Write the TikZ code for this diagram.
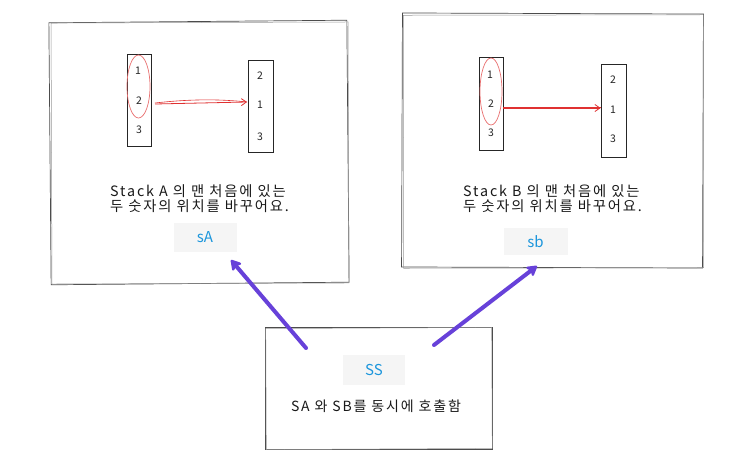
\documentclass[tikz,border=0pt]{standalone}
\usepackage{fontspec}
\setmainfont{Noto Sans CJK KR}
\newfontfamily\widefont[LetterSpace=13]{Noto Sans CJK KR}
\usetikzlibrary{arrows.meta,shapes.geometric}
\definecolor{sketchred}{RGB}{224,49,49}
\definecolor{labelblue}{RGB}{28,150,220}
\definecolor{arrowpurple}{RGB}{103,65,217}
\definecolor{labelbg}{RGB}{245,245,245}
\tikzset{
  frame/.style={draw=black!70, line width=0.7pt, rectangle, inner sep=0pt},
  frametwo/.style={draw=black!40, line width=0.5pt, rectangle, inner sep=0pt},
  stackbox/.style={draw=black!85, line width=0.8pt, rectangle, inner sep=0pt, minimum width=24pt},
  numtxt/.style={font=\fontsize{10.5}{10.5}\selectfont, text=black!85, inner sep=0pt},
  swapring/.style={draw=sketchred!70, line width=0.7pt, ellipse, inner sep=0pt},
  redarrow/.style={draw=sketchred, line width=0.8pt, -{Straight Barb[length=5pt,width=7pt]}},
  desctxt/.style={font=\widefont\fontsize{14.3}{15.5}\selectfont, align=left, anchor=west, inner sep=0pt, text=black!90},
  cmdlabel/.style={fill=labelbg, text=labelblue, font=\fontsize{15}{15}\selectfont, inner sep=0pt},
  callarrow/.style={draw=arrowpurple, line width=4pt, line cap=round,
    -{Stealth[round,length=12pt,width=14pt,inset=3pt]}}
}
\begin{document}
\begin{tikzpicture}[x=1pt,y=-1pt]
\useasboundingbox (0,0) rectangle (753,466);
\fill[white] (0,0) rectangle (753,466);

% frames
\node[frame, minimum width=298pt, minimum height=262pt, rotate=0.5] (frameA) at (199,152.5) {};
\node[frametwo, minimum width=297pt, minimum height=261pt, rotate=0.2] (frameAb) at (200,153) {};
\node[frame, minimum width=301pt, minimum height=254pt, rotate=-0.2] (frameB) at (552.5,140.5) {};
\node[frametwo, minimum width=300pt, minimum height=253pt, rotate=0.1] (frameBb) at (553.5,141.5) {};
\node[frame, minimum width=227pt, minimum height=122pt] (frameS) at (378.5,388) {};
\node[frametwo, minimum width=226pt, minimum height=121pt, rotate=0.3] (frameSb) at (379,388.5) {};

% stack A
\node[stackbox, minimum height=92pt] (a1) at (139,100) {};
\node[numtxt] (a1n1) at (138,71) {1};
\node[numtxt] (a1n2) at (139,101) {2};
\node[numtxt] (a1n3) at (139,130) {3};
\node[swapring, minimum width=23pt, minimum height=63pt] (ringA) at (138.5,86.5) {};
\node[stackbox, minimum width=25pt, minimum height=92pt] (a2) at (260.5,106) {};
\node[numtxt] (a2n1) at (260,76) {2};
\node[numtxt] (a2n2) at (260,105) {1};
\node[numtxt] (a2n3) at (260,137) {3};
\coordinate (arAs) at (155,104);
\coordinate (arAe) at (247,102);
\draw[redarrow] (arAs) -- (arAe);
\draw[draw=sketchred, line width=0.6pt] (arAs) ++(0,-1) .. controls (190,99) and (220,99) .. (arAe);

% stack B
\node[stackbox, minimum height=93pt] (b1) at (491,103.5) {};
\node[numtxt] (b1n1) at (490,75) {1};
\node[numtxt] (b1n2) at (491,104) {2};
\node[numtxt] (b1n3) at (491,133) {3};
\node[swapring, minimum width=22pt, minimum height=67pt] (ringB) at (491,91.5) {};
\node[stackbox, minimum width=25pt, minimum height=93pt] (b2) at (613.5,110.5) {};
\node[numtxt] (b2n1) at (613,80) {2};
\node[numtxt] (b2n2) at (613,110) {1};
\node[numtxt] (b2n3) at (613,139) {3};
\draw[redarrow] (b1.east |- 0,108) -- (b2.west |- 0,108);
\draw[draw=sketchred, line width=0.5pt] (b1.east |- 0,107.3) -- (b2.west |- 0,107.3);

% descriptions
\node[desctxt] (descA) at (110,198.5) {Stack A 의 맨 처음에 있는\\두 숫자의 위치를 바꾸어요.};
\node[desctxt] (descB) at (463,198.5) {Stack B 의 맨 처음에 있는\\두 숫자의 위치를 바꾸어요.};

% command labels
\node[cmdlabel, minimum width=63pt, minimum height=29pt] (sA) at (205,237.5) {sA};
\node[cmdlabel, minimum width=64pt, minimum height=27pt] (sb) at (535.5,241.5) {sb};
\node[cmdlabel, minimum width=62pt, minimum height=30pt] (ss) at (374,370) {SS};
\node[font=\widefont\fontsize{14}{15}\selectfont, text=black!90, inner sep=0pt] (ssdesc) at (376,406) {SA 와 SB를 동시에 호출함};

% call arrows
\coordinate (callAs) at (306,348);
\coordinate (callAe) at (231,260);
\coordinate (callBs) at (434,345);
\coordinate (callBe) at (537,266);
\draw[callarrow] (callAs) -- (callAe);
\draw[callarrow] (callBs) -- (callBe);
\end{tikzpicture}
\end{document}
